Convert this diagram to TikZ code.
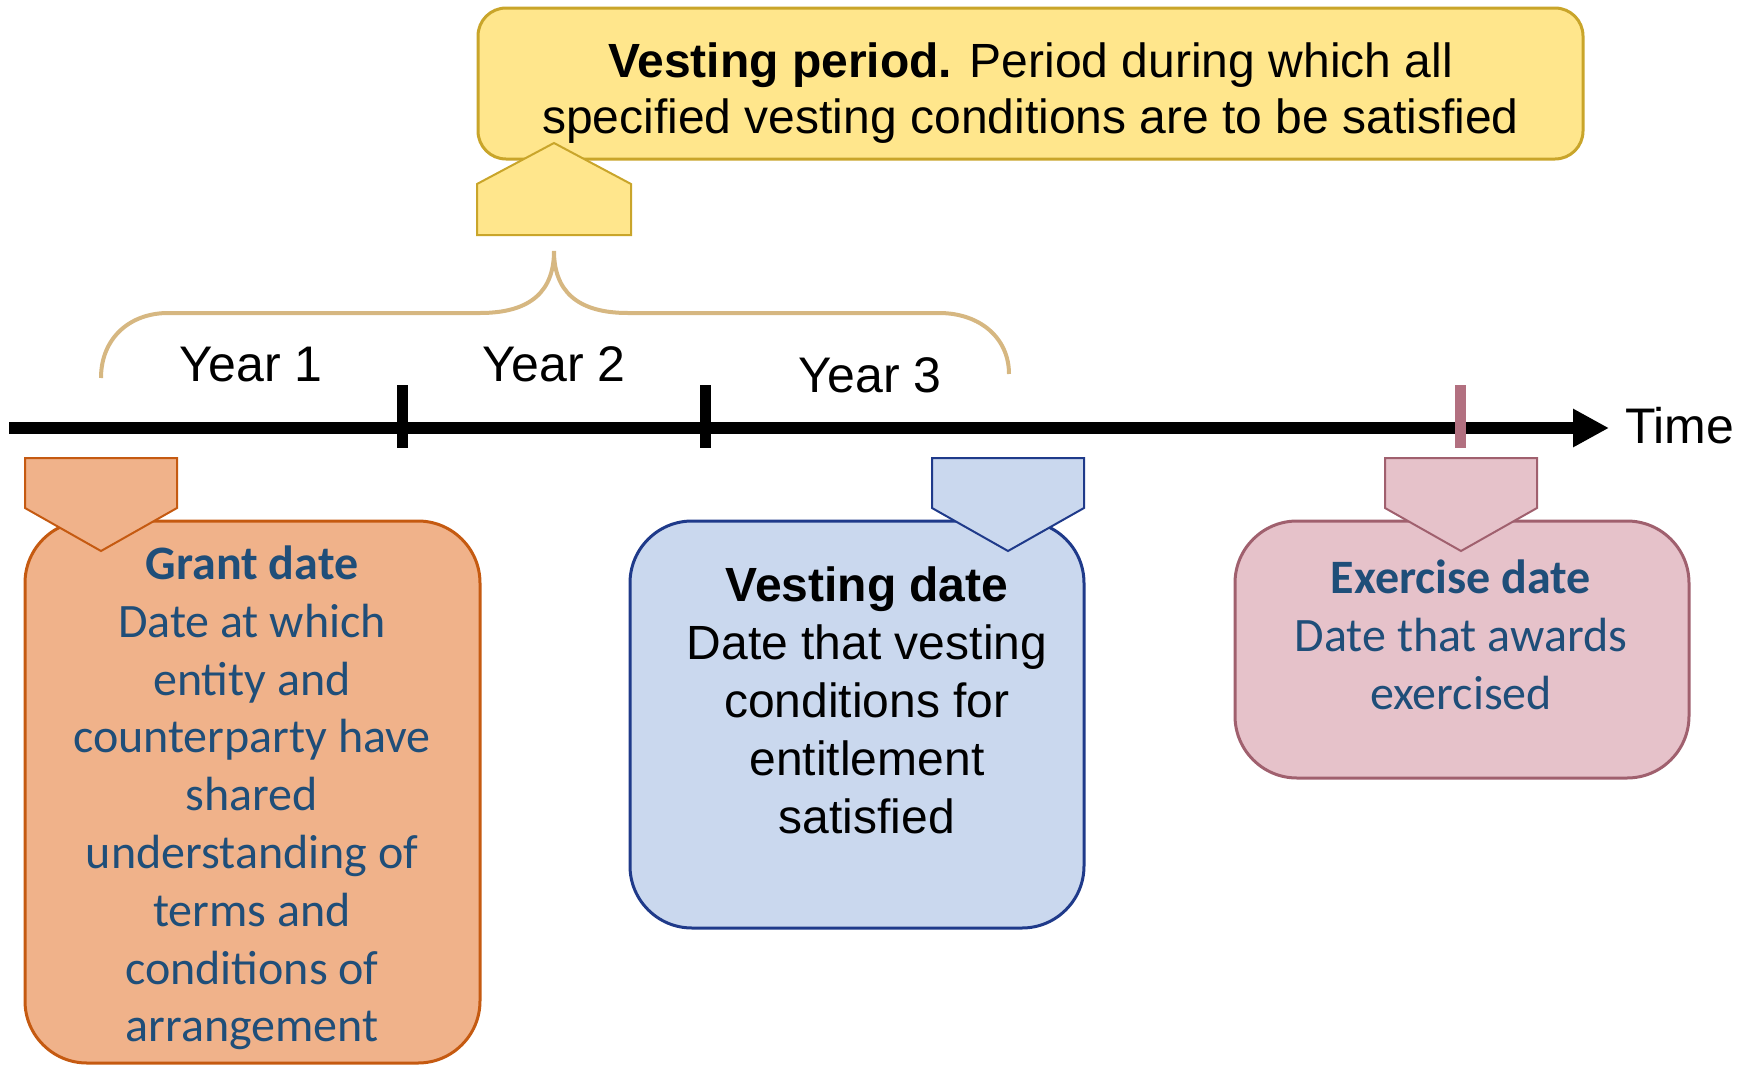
\documentclass[tikz,border=0pt]{standalone}
\usepackage{fontspec}
\setmainfont{Liberation Sans}
\newfontfamily\calibri{Carlito}
\usetikzlibrary{arrows.meta}

\definecolor{periodfill}{HTML}{FFE68C}
\definecolor{periodline}{HTML}{C9A52A}
\definecolor{bracecol}{HTML}{D6B781}
\definecolor{grantfill}{HTML}{F0B28A}
\definecolor{grantline}{HTML}{C55A11}
\definecolor{vestfill}{HTML}{CAD8EE}
\definecolor{vestline}{HTML}{1F3A8A}
\definecolor{exfill}{HTML}{E6C2CA}
\definecolor{exline}{HTML}{A0606E}
\definecolor{extick}{HTML}{B27080}
\definecolor{datetext}{HTML}{1F4E79}

\begin{document}
\begin{tikzpicture}[x=0.5pt,y=-0.5pt,
  datebox/.style={draw,line width=1.5pt,rounded corners=31pt,inner sep=0pt},
  boxtext/.style={align=center,font=\fontsize{24}{29}\selectfont},
  calibritext/.style={align=center,text=datetext,font={\calibri\fontsize{24}{28.9}\selectfont}},
  yearlabel/.style={anchor=base,font=\fontsize{25}{30}\selectfont}]

  \useasboundingbox (0,0) rectangle (1752,1066);

  % vesting period box and its pointer
  \node[datebox,rounded corners=14pt,fill=periodfill,draw=periodline,
        minimum width=552.5pt,minimum height=75.5pt] (period) at (1030.5,83.5) {};
  \node[align=center,font=\fontsize{24}{28}\selectfont] (periodtext) at (1030.5,93.5)
       {\textbf{Vesting period.} Period during which all\\specified vesting conditions are to be satisfied};
  \draw[fill=periodfill,draw=periodline,line width=1pt]
    (477,235) -- (631,235) -- (631,184) -- (554,143) -- (477,184) -- cycle;

  % brace over the three years
  \coordinate (bleft) at (101,378);
  \coordinate (btip) at (554,251);
  \coordinate (bright) at (1009,374);
  \draw[bracecol,line width=2pt]
    (bleft) .. controls (101,338) and (130,313) .. (168,313) -- (480,313)
    .. controls (532,313) and (554,290) .. (btip)
    .. controls (554,290) and (576,313) .. (628,313) -- (939,313)
    .. controls (980,313) and (1009,338) .. (bright);

  \node[yearlabel] (y1) at (251,381) {Year 1};
  \node[yearlabel] (y2) at (554,381) {Year 2};
  \node[yearlabel] (y3) at (870,392) {Year 3};

  % time axis
  \coordinate (tstart) at (9,428);
  \coordinate (tend) at (1609,428);
  \draw[line width=6pt,-{Triangle[length=18pt,width=18pt]}] (tstart) -- (tend);
  \node[anchor=base west,font=\fontsize{25}{30}\selectfont] (time) at (1618,443) {Time};
  \foreach \tx in {402,705}
    \draw[line width=5.5pt] (\tx,385) -- (\tx,448);
  \draw[extick,line width=5.5pt] (1460,385) -- (1460,448);

  % date boxes
  \node[datebox,fill=grantfill,draw=grantline,minimum width=227.5pt,minimum height=271pt] (grant) at (252.5,792) {};
  \node[datebox,fill=vestfill,draw=vestline,minimum width=227pt,minimum height=203.5pt] (vest) at (857,724.5) {};
  \node[datebox,fill=exfill,draw=exline,minimum width=227pt,minimum height=128.5pt] (exercise) at (1462,649.5) {};

  \foreach \px/\pf/\pl in {101/grantfill/grantline,1008/vestfill/vestline,1461/exfill/exline}
    \draw[fill=\pf,draw=\pl,line width=1pt]
      (\px-76,458) -- (\px+76,458) -- (\px+76,508) -- (\px,551) -- (\px-76,508) -- cycle;

  \node[calibritext] (granttext) at (252,798)
    {\textbf{Grant date}\\Date at which\\entity and\\counterparty have\\shared\\understanding of\\terms and\\conditions of\\arrangement};
  \node[boxtext] (vesttext) at (867,700)
    {\textbf{Vesting date}\\Date that vesting\\conditions for\\entitlement\\satisfied};
  \node[calibritext] (extext) at (1461,635)
    {\textbf{Exercise date}\\Date that awards\\exercised};

\end{tikzpicture}
\end{document}
